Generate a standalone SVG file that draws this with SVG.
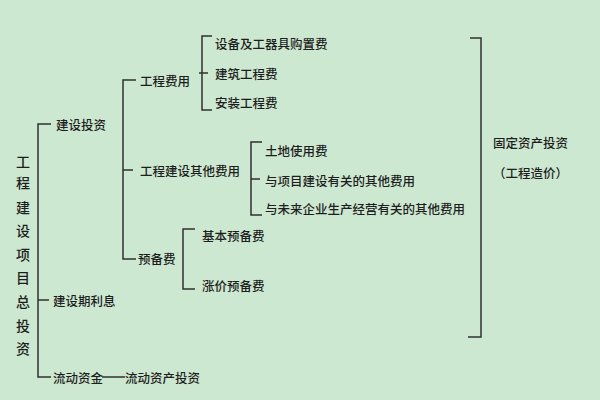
<svg xmlns="http://www.w3.org/2000/svg" width="600" height="400" viewBox="0 0 600 400">
<style>
text{font-family:"Noto Sans CJK SC","Noto Sans",sans-serif;font-size:12.5px;font-weight:500;fill:#1e1e1e;dominant-baseline:central}
.v{font-size:14px;text-anchor:middle}
.ln{fill:none;stroke:#303030;stroke-width:1.5}
</style>
<rect width="600" height="400" fill="#cde8d0"/>
<g id="connectors" class="ln">
<path d="M51,124H38V377H51M38,300H49"/>
<path d="M136,80H123V259H136M123,170H133"/>
<path d="M212,36H202V110H212M199,73H208"/>
<path d="M262,142H251V215H262M251,179H260"/>
<path d="M195,229H183V289H195"/>
<path d="M470,38H481V337H468"/>
<path d="M102,377H125"/>
</g>
<g id="root">
<text class="v" x="23" y="161">工</text>
<text class="v" x="23" y="182">程</text>
<text class="v" x="23" y="207">建</text>
<text class="v" x="23" y="230">设</text>
<text class="v" x="23" y="254">项</text>
<text class="v" x="23" y="277">目</text>
<text class="v" x="23" y="301">总</text>
<text class="v" x="23" y="325">投</text>
<text class="v" x="23" y="348">资</text>
</g>
<g id="n-jsz"><text x="56" y="124">建设投资</text></g>
<g id="n-jsqlx"><text x="53" y="300">建设期利息</text></g>
<g id="n-ldzj"><text x="53" y="377">流动资金</text></g>
<g id="n-ldzctz"><text x="125" y="377">流动资产投资</text></g>
<g id="n-gcfy"><text x="140" y="80">工程费用</text></g>
<g id="n-gcjsqtfy"><text x="140" y="170">工程建设其他费用</text></g>
<g id="n-ybf"><text x="138" y="258">预备费</text></g>
<g id="n-sb"><text x="215" y="43">设备及工器具购置费</text></g>
<g id="n-jz"><text x="215" y="73">建筑工程费</text></g>
<g id="n-az"><text x="215" y="102">安装工程费</text></g>
<g id="n-td"><text x="265" y="150">土地使用费</text></g>
<g id="n-xm"><text x="265" y="180">与项目建设有关的其他费用</text></g>
<g id="n-wl"><text x="265" y="208">与未来企业生产经营有关的其他费用</text></g>
<g id="n-jb"><text x="202" y="235">基本预备费</text></g>
<g id="n-zj"><text x="202" y="285">涨价预备费</text></g>
<g id="n-gdzc"><text x="493" y="142">固定资产投资</text><text x="493" y="172">（工程造价）</text></g>
</svg>
